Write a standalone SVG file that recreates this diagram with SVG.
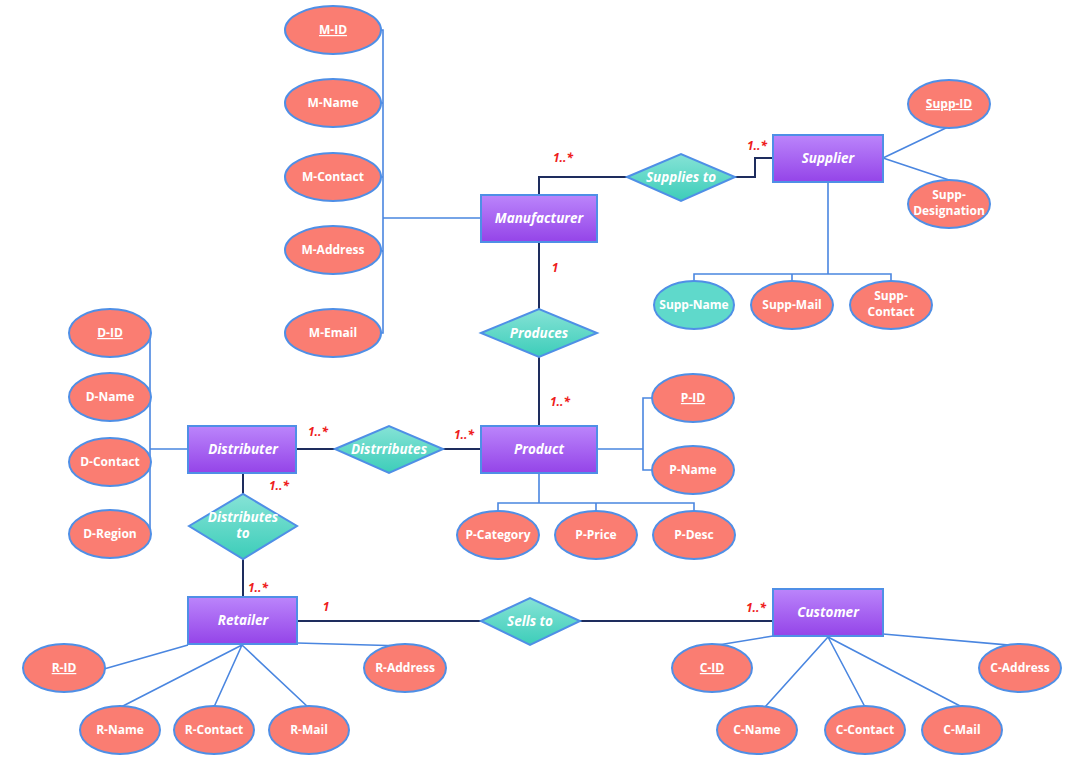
<svg xmlns="http://www.w3.org/2000/svg" width="1080" height="770" viewBox="0 0 1080 770">
<defs>
<linearGradient id="ent" x1="0" y1="0" x2="0" y2="1"><stop offset="0" stop-color="#bb85fb"/><stop offset="1" stop-color="#9444e8"/></linearGradient>
<linearGradient id="rel" x1="0" y1="0" x2="0" y2="1"><stop offset="0" stop-color="#86e3d6"/><stop offset="1" stop-color="#3ccdb9"/></linearGradient>
<style>
.ent{fill:url(#ent);stroke:#4f8fe6;stroke-width:2}
.rel{fill:url(#rel);stroke:#4f8fe6;stroke-width:2}
.att{fill:#fa7d72;stroke:#4f8fe6;stroke-width:2}
.attk{fill:#5fd9cb;stroke:#4f8fe6;stroke-width:2}
.et{font-family:"Open Sans","Noto Sans",sans-serif;font-weight:bold;font-style:italic;font-size:13.5px;fill:#fff;text-anchor:middle}
.at{font-family:"Open Sans","Noto Sans",sans-serif;font-weight:bold;font-size:12px;fill:#fff;text-anchor:middle}
.u{text-decoration:underline}
.card{font-family:"Open Sans","Noto Sans",sans-serif;font-weight:bold;font-style:italic;font-size:12px;fill:#ee1c1c;text-anchor:middle}
.al{fill:none;stroke:#4a86e0;stroke-width:1.6}
.rl{fill:none;stroke:#1e2d5e;stroke-width:2}
</style>
</defs>
<rect width="1080" height="770" fill="#fff"/>
<g id="connectors">
<path class="al" d="M381 30H383V333H381M381 103H383M381 177H383M381 250L383 252M383 218H481"/>
<path class="al" d="M883 158L948 127M883 158L949 180M828 182V274M694 281V274H891V281M792 274V281"/>
<path class="al" d="M597 449H643M652 398H643V470H652M539 473V503M498 511V503H694V511M596 503V511"/>
<path class="al" d="M151 333H150V534H151M150 397H151M150 462H151M150 449H188"/>
<path class="al" d="M188 645L104 669M242 645L121 707M242 645L214 707M242 645L309 708M297 643L405 646"/>
<path class="al" d="M773 636L712 646M828 637L765 707M828 637L865 707M828 637L962 707M883 634L1020 646"/>
<path class="rl" d="M539 195V177H627M735 177H755V158H773"/>
<path class="rl" d="M539 242V309M539 357V426"/>
<path class="rl" d="M296 449H335M443 449H481"/>
<path class="rl" d="M243 473V494M243 559V597"/>
<path class="rl" d="M297 621H481M580 621H773"/>
</g>
<g id="cardinalities">
<text class="card" x="563" y="162">1..*</text>
<text class="card" x="757" y="150">1..*</text>
<text class="card" x="555" y="272">1</text>
<text class="card" x="560" y="406">1..*</text>
<text class="card" x="318" y="436">1..*</text>
<text class="card" x="464" y="439">1..*</text>
<text class="card" x="279" y="490">1..*</text>
<text class="card" x="258" y="592">1..*</text>
<text class="card" x="326" y="611">1</text>
<text class="card" x="756" y="612">1..*</text>
</g>
<g id="Manufacturer"><rect class="ent" x="481" y="195" width="116" height="47"/><text class="et" x="539" y="223">Manufacturer</text></g>
<g id="Supplier"><rect class="ent" x="773" y="135" width="110" height="47"/><text class="et" x="828" y="163">Supplier</text></g>
<g id="Distributer"><rect class="ent" x="188" y="426" width="108" height="47"/><text class="et" x="243" y="454">Distributer</text></g>
<g id="Product"><rect class="ent" x="481" y="426" width="116" height="47"/><text class="et" x="539" y="454">Product</text></g>
<g id="Retailer"><rect class="ent" x="188" y="597" width="109" height="47"/><text class="et" x="243" y="625">Retailer</text></g>
<g id="Customer"><rect class="ent" x="773" y="589" width="110" height="47"/><text class="et" x="828" y="617">Customer</text></g>

<g id="SuppliesTo"><polygon class="rel" points="627,177 681,154 735,177 681,201"/><text class="et" x="681" y="182">Supplies to</text></g>
<g id="Produces"><polygon class="rel" points="481,333 539,309 597,333 539,357"/><text class="et" x="539" y="338">Produces</text></g>
<g id="Distrributes"><polygon class="rel" points="335,449 389,426 443,449 389,473"/><text class="et" x="389" y="454">Distrributes</text></g>
<g id="DistributesTo"><polygon class="rel" points="189,526 243,494 297,526 243,559"/><text class="et" x="243" y="522">Distributes</text><text class="et" x="243" y="538">to</text></g>
<g id="SellsTo"><polygon class="rel" points="481,621 530,598 580,621 530,645"/><text class="et" x="530" y="626">Sells to</text></g>

<g id="M-ID"><ellipse class="att" cx="333" cy="30" rx="48" ry="24"/><text class="at u" x="333" y="34">M-ID</text></g>
<g id="M-Name"><ellipse class="att" cx="333" cy="103" rx="48" ry="24"/><text class="at" x="333" y="107">M-Name</text></g>
<g id="M-Contact"><ellipse class="att" cx="333" cy="177" rx="48" ry="24"/><text class="at" x="333" y="181">M-Contact</text></g>
<g id="M-Address"><ellipse class="att" cx="333" cy="250" rx="48" ry="24"/><text class="at" x="333" y="254">M-Address</text></g>
<g id="M-Email"><ellipse class="att" cx="333" cy="333" rx="48" ry="24"/><text class="at" x="333" y="337">M-Email</text></g>

<g id="Supp-ID"><ellipse class="att" cx="949" cy="104" rx="41" ry="24"/><text class="at u" x="949" y="108">Supp-ID</text></g>
<g id="Supp-Designation"><ellipse class="att" cx="949" cy="204" rx="41" ry="24"/><text class="at" x="949" y="199">Supp-</text><text class="at" x="949" y="215">Designation</text></g>
<g id="Supp-Name"><ellipse class="attk" cx="694" cy="305" rx="40" ry="24"/><text class="at" x="694" y="309">Supp-Name</text></g>
<g id="Supp-Mail"><ellipse class="att" cx="792" cy="305" rx="41" ry="24"/><text class="at" x="792" y="309">Supp-Mail</text></g>
<g id="Supp-Contact"><ellipse class="att" cx="891" cy="305" rx="41" ry="24"/><text class="at" x="891" y="300">Supp-</text><text class="at" x="891" y="316">Contact</text></g>

<g id="D-ID"><ellipse class="att" cx="110" cy="333" rx="41" ry="24"/><text class="at u" x="110" y="337">D-ID</text></g>
<g id="D-Name"><ellipse class="att" cx="110" cy="397" rx="41" ry="24"/><text class="at" x="110" y="401">D-Name</text></g>
<g id="D-Contact"><ellipse class="att" cx="110" cy="462" rx="41" ry="24"/><text class="at" x="110" y="466">D-Contact</text></g>
<g id="D-Region"><ellipse class="att" cx="110" cy="534" rx="41" ry="24"/><text class="at" x="110" y="538">D-Region</text></g>

<g id="P-ID"><ellipse class="att" cx="693" cy="398" rx="41" ry="24"/><text class="at u" x="693" y="402">P-ID</text></g>
<g id="P-Name"><ellipse class="att" cx="693" cy="470" rx="41" ry="24"/><text class="at" x="693" y="474">P-Name</text></g>
<g id="P-Category"><ellipse class="att" cx="498" cy="535" rx="41" ry="24"/><text class="at" x="498" y="539">P-Category</text></g>
<g id="P-Price"><ellipse class="att" cx="596" cy="535" rx="41" ry="24"/><text class="at" x="596" y="539">P-Price</text></g>
<g id="P-Desc"><ellipse class="att" cx="694" cy="535" rx="41" ry="24"/><text class="at" x="694" y="539">P-Desc</text></g>

<g id="R-ID"><ellipse class="att" cx="64" cy="668" rx="41" ry="24"/><text class="at u" x="64" y="672">R-ID</text></g>
<g id="R-Name"><ellipse class="att" cx="120" cy="730" rx="40" ry="24"/><text class="at" x="120" y="734">R-Name</text></g>
<g id="R-Contact"><ellipse class="att" cx="214" cy="730" rx="40" ry="24"/><text class="at" x="214" y="734">R-Contact</text></g>
<g id="R-Mail"><ellipse class="att" cx="309" cy="730" rx="40" ry="24"/><text class="at" x="309" y="734">R-Mail</text></g>
<g id="R-Address"><ellipse class="att" cx="405" cy="668" rx="41" ry="24"/><text class="at" x="405" y="672">R-Address</text></g>

<g id="C-ID"><ellipse class="att" cx="712" cy="668" rx="40" ry="24"/><text class="at u" x="712" y="672">C-ID</text></g>
<g id="C-Name"><ellipse class="att" cx="757" cy="730" rx="40" ry="24"/><text class="at" x="757" y="734">C-Name</text></g>
<g id="C-Contact"><ellipse class="att" cx="865" cy="730" rx="40" ry="24"/><text class="at" x="865" y="734">C-Contact</text></g>
<g id="C-Mail"><ellipse class="att" cx="962" cy="730" rx="40" ry="24"/><text class="at" x="962" y="734">C-Mail</text></g>
<g id="C-Address"><ellipse class="att" cx="1020" cy="668" rx="41" ry="24"/><text class="at" x="1020" y="672">C-Address</text></g>
</svg>
